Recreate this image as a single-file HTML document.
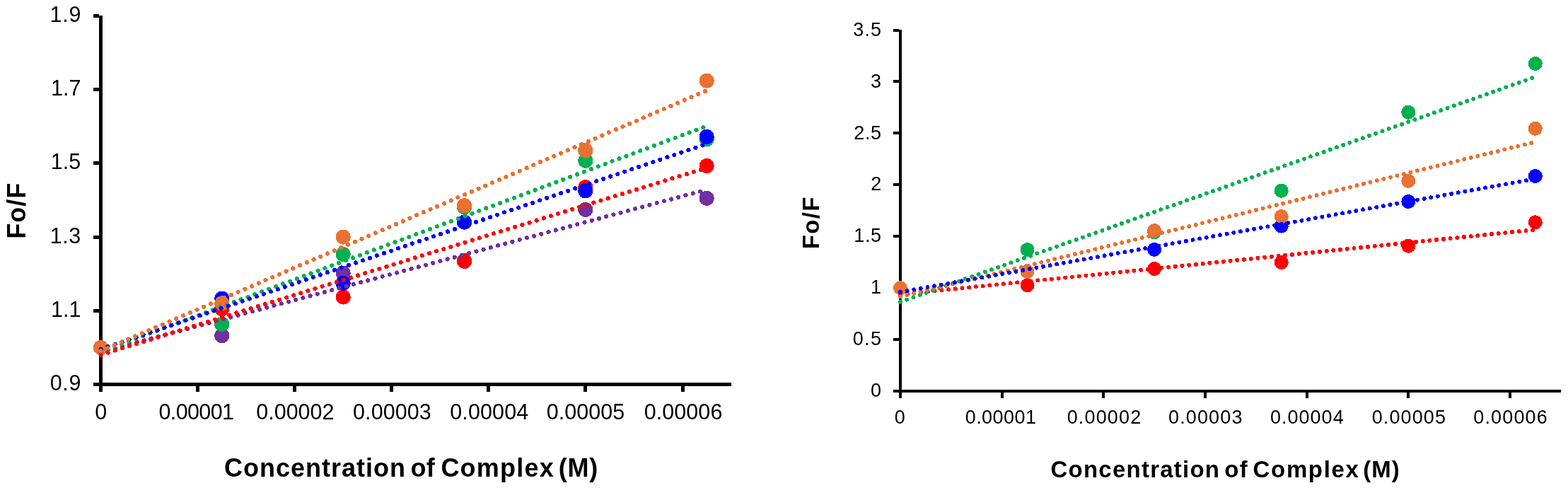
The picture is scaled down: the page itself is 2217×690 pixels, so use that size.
<!DOCTYPE html>
<html><head><meta charset="utf-8"><style>
html,body{margin:0;padding:0;background:#fff;}
svg{display:block;}
.t{font-family:"Liberation Sans",Arial,sans-serif;fill:#000;}
.b{font-family:"Liberation Sans",Arial,sans-serif;font-weight:bold;fill:#000;}
</style></head><body>
<svg width="2217" height="690" viewBox="0 0 2217 690">
<rect width="2217" height="690" fill="#fff"/>
<g fill="#000" shape-rendering="crispEdges">
<rect x="140" y="22" width="5" height="532"/>
<rect x="132" y="20.0" width="8" height="5"/>
<rect x="132" y="124.2" width="8" height="5"/>
<rect x="132" y="228.4" width="8" height="5"/>
<rect x="132" y="332.6" width="8" height="5"/>
<rect x="132" y="436.8" width="8" height="5"/>
<rect x="132" y="541.0" width="8" height="5"/>
<rect x="132" y="541" width="902" height="5"/>
<rect x="277.1" y="541" width="5" height="13"/>
<rect x="414.2" y="541" width="5" height="13"/>
<rect x="551.2" y="541" width="5" height="13"/>
<rect x="688.3" y="541" width="5" height="13"/>
<rect x="825.4" y="541" width="5" height="13"/>
<rect x="962.5" y="541" width="5" height="13"/>
<rect x="1271" y="42" width="4" height="521"/>
<rect x="1263" y="40.5" width="8" height="4"/>
<rect x="1263" y="113.4" width="8" height="4"/>
<rect x="1263" y="186.4" width="8" height="4"/>
<rect x="1263" y="259.3" width="8" height="4"/>
<rect x="1263" y="332.2" width="8" height="4"/>
<rect x="1263" y="405.2" width="8" height="4"/>
<rect x="1263" y="478.1" width="8" height="4"/>
<rect x="1263" y="551.0" width="8" height="4"/>
<rect x="1263" y="551" width="944" height="4"/>
<rect x="1414.7" y="551" width="4" height="12"/>
<rect x="1558.3" y="551" width="4" height="12"/>
<rect x="1702.0" y="551" width="4" height="12"/>
<rect x="1845.6" y="551" width="4" height="12"/>
<rect x="1989.2" y="551" width="4" height="12"/>
<rect x="2132.9" y="551" width="4" height="12"/>
</g>
<g shape-rendering="crispEdges">
<circle cx="142.50" cy="491.40" r="10.6" fill="#7030A0"/>
<circle cx="313.85" cy="474.73" r="10.6" fill="#7030A0"/>
<circle cx="485.20" cy="386.16" r="10.6" fill="#7030A0"/>
<circle cx="656.55" cy="368.44" r="10.6" fill="#7030A0"/>
<circle cx="827.90" cy="296.55" r="10.6" fill="#7030A0"/>
<circle cx="999.25" cy="280.39" r="10.6" fill="#7030A0"/>
<circle cx="142.50" cy="491.40" r="10.6" fill="#FF0000"/>
<circle cx="313.85" cy="436.70" r="10.6" fill="#FF0000"/>
<circle cx="485.20" cy="420.02" r="10.6" fill="#FF0000"/>
<circle cx="656.55" cy="369.49" r="10.6" fill="#FF0000"/>
<circle cx="827.90" cy="264.76" r="10.6" fill="#FF0000"/>
<circle cx="999.25" cy="234.55" r="10.6" fill="#FF0000"/>
<circle cx="142.50" cy="491.40" r="10.6" fill="#00B050"/>
<circle cx="313.85" cy="458.58" r="10.6" fill="#00B050"/>
<circle cx="485.20" cy="359.59" r="10.6" fill="#00B050"/>
<circle cx="656.55" cy="292.90" r="10.6" fill="#00B050"/>
<circle cx="827.90" cy="227.25" r="10.6" fill="#00B050"/>
<circle cx="999.25" cy="197.04" r="10.6" fill="#00B050"/>
<circle cx="142.50" cy="491.40" r="10.6" fill="#0000FF"/>
<circle cx="313.85" cy="422.11" r="10.6" fill="#0000FF"/>
<circle cx="485.20" cy="400.23" r="10.6" fill="#0000FF"/>
<circle cx="656.55" cy="314.26" r="10.6" fill="#0000FF"/>
<circle cx="827.90" cy="269.97" r="10.6" fill="#0000FF"/>
<circle cx="999.25" cy="193.39" r="10.6" fill="#0000FF"/>
<circle cx="142.50" cy="491.40" r="10.6" fill="#E97132"/>
<circle cx="313.85" cy="428.88" r="10.6" fill="#E97132"/>
<circle cx="485.20" cy="335.10" r="10.6" fill="#E97132"/>
<circle cx="656.55" cy="290.81" r="10.6" fill="#E97132"/>
<circle cx="827.90" cy="212.67" r="10.6" fill="#E97132"/>
<circle cx="999.25" cy="114.20" r="10.6" fill="#E97132"/>
<line x1="142.50" y1="497.75" x2="999.25" y2="268.14" stroke="#7030A0" stroke-width="6.2" stroke-linecap="round" stroke-dasharray="0.01 10.56"/>
<line x1="142.50" y1="497.26" x2="999.25" y2="178.33" stroke="#00B050" stroke-width="6.2" stroke-linecap="round" stroke-dasharray="0.01 10.56"/>
<line x1="142.50" y1="501.67" x2="999.25" y2="237.30" stroke="#FF0000" stroke-width="6.2" stroke-linecap="round" stroke-dasharray="0.01 10.56"/>
<line x1="142.50" y1="493.73" x2="999.25" y2="203.39" stroke="#0000FF" stroke-width="6.2" stroke-linecap="round" stroke-dasharray="0.01 10.56"/>
<line x1="142.50" y1="496.39" x2="999.25" y2="127.97" stroke="#E97132" stroke-width="6.2" stroke-linecap="round" stroke-dasharray="0.01 10.56"/>
<circle cx="1273.00" cy="407.14" r="10.0" fill="#FF0000"/>
<circle cx="1452.56" cy="403.35" r="10.0" fill="#FF0000"/>
<circle cx="1632.12" cy="380.01" r="10.0" fill="#FF0000"/>
<circle cx="1811.69" cy="370.97" r="10.0" fill="#FF0000"/>
<circle cx="1991.25" cy="347.77" r="10.0" fill="#FF0000"/>
<circle cx="2170.81" cy="314.23" r="10.0" fill="#FF0000"/>
<circle cx="1273.00" cy="407.14" r="10.0" fill="#00B050"/>
<circle cx="1452.56" cy="353.03" r="10.0" fill="#00B050"/>
<circle cx="1632.12" cy="328.38" r="10.0" fill="#00B050"/>
<circle cx="1811.69" cy="269.74" r="10.0" fill="#00B050"/>
<circle cx="1991.25" cy="158.74" r="10.0" fill="#00B050"/>
<circle cx="2170.81" cy="89.89" r="10.0" fill="#00B050"/>
<circle cx="1273.00" cy="407.14" r="10.0" fill="#0000FF"/>
<circle cx="1452.56" cy="383.80" r="10.0" fill="#0000FF"/>
<circle cx="1632.12" cy="352.88" r="10.0" fill="#0000FF"/>
<circle cx="1811.69" cy="319.62" r="10.0" fill="#0000FF"/>
<circle cx="1991.25" cy="285.06" r="10.0" fill="#0000FF"/>
<circle cx="2170.81" cy="249.03" r="10.0" fill="#0000FF"/>
<circle cx="1273.00" cy="407.14" r="10.0" fill="#E97132"/>
<circle cx="1452.56" cy="383.95" r="10.0" fill="#E97132"/>
<circle cx="1632.12" cy="326.04" r="10.0" fill="#E97132"/>
<circle cx="1811.69" cy="306.06" r="10.0" fill="#E97132"/>
<circle cx="1991.25" cy="255.88" r="10.0" fill="#E97132"/>
<circle cx="2170.81" cy="181.79" r="10.0" fill="#E97132"/>
<line x1="1273.00" y1="416.32" x2="2170.81" y2="324.84" stroke="#FF0000" stroke-width="6.0" stroke-linecap="round" stroke-dasharray="0.01 9.76"/>
<line x1="1273.00" y1="426.94" x2="2170.81" y2="108.70" stroke="#00B050" stroke-width="6.0" stroke-linecap="round" stroke-dasharray="0.01 9.76"/>
<line x1="1273.00" y1="419.50" x2="2170.81" y2="200.79" stroke="#E97132" stroke-width="6.0" stroke-linecap="round" stroke-dasharray="0.01 9.76"/>
<line x1="1273.00" y1="412.93" x2="2170.81" y2="252.92" stroke="#0000FF" stroke-width="6.0" stroke-linecap="round" stroke-dasharray="0.01 9.76"/>
</g>
<text class="t" x="70.55" y="30.90" style="font-size:30.5px;letter-spacing:0.730px">1.9</text>
<text class="t" x="72.09" y="135.10" style="font-size:30.5px;letter-spacing:0.000px">1.7</text>
<text class="t" x="71.86" y="239.30" style="font-size:30.5px;letter-spacing:0.000px">1.5</text>
<text class="t" x="70.65" y="343.50" style="font-size:30.5px;letter-spacing:0.643px">1.3</text>
<text class="t" x="72.04" y="447.70" style="font-size:30.5px;letter-spacing:0.000px">1.1</text>
<text class="t" x="70.65" y="551.90" style="font-size:30.5px;letter-spacing:0.683px">0.9</text>
<text class="t" x="134.15" y="593.00" style="font-size:30.5px;letter-spacing:0.000px">0</text>
<text class="t" x="224.55" y="593.00" style="font-size:30.5px;letter-spacing:-0.642px">0.00001</text>
<text class="t" x="362.35" y="593.00" style="font-size:30.5px;letter-spacing:-0.034px">0.00002</text>
<text class="t" x="499.05" y="593.00" style="font-size:30.5px;letter-spacing:0.077px">0.00003</text>
<text class="t" x="636.25" y="593.00" style="font-size:30.5px;letter-spacing:0.124px">0.00004</text>
<text class="t" x="772.65" y="593.00" style="font-size:30.5px;letter-spacing:0.064px">0.00005</text>
<text class="t" x="910.65" y="593.00" style="font-size:30.5px;letter-spacing:0.075px">0.00006</text>
<text class="b" x="317.08" y="674.00" style="font-size:36px;letter-spacing:0.998px">Concentration</text>
<text class="b" x="580.52" y="674.00" style="font-size:36px;letter-spacing:0.220px">of</text>
<text class="b" x="623.38" y="674.00" style="font-size:36px;letter-spacing:1.233px">Complex</text>
<text class="b" x="789.79" y="674.00" style="font-size:36px;letter-spacing:0.714px">(M)</text>
<text class="b" transform="translate(36.00,337.72) rotate(-90)" x="0" y="0" style="font-size:36px;letter-spacing:1.022px">Fo/F</text>
<text class="t" x="1206.33" y="50.90" style="font-size:27px;letter-spacing:1.075px">3.5</text>
<text class="t" x="1231.05" y="123.73" style="font-size:27px;letter-spacing:0.600px">3</text>
<text class="t" x="1207.28" y="196.56" style="font-size:27px;letter-spacing:0.600px">2.5</text>
<text class="t" x="1231.16" y="269.39" style="font-size:27px;letter-spacing:0.600px">2</text>
<text class="t" x="1207.28" y="342.22" style="font-size:27px;letter-spacing:0.600px">1.5</text>
<text class="t" x="1231.11" y="415.05" style="font-size:27px;letter-spacing:0.600px">1</text>
<text class="t" x="1205.69" y="487.88" style="font-size:27px;letter-spacing:1.396px">0.5</text>
<text class="t" x="1230.89" y="560.71" style="font-size:27px;letter-spacing:0.600px">0</text>
<text class="t" x="1264.64" y="599.00" style="font-size:27px;letter-spacing:0.000px">0</text>
<text class="t" x="1364.69" y="599.00" style="font-size:27px;letter-spacing:0.451px">0.00001</text>
<text class="t" x="1508.69" y="599.00" style="font-size:27px;letter-spacing:1.159px">0.00002</text>
<text class="t" x="1651.99" y="599.00" style="font-size:27px;letter-spacing:1.140px">0.00003</text>
<text class="t" x="1795.89" y="599.00" style="font-size:27px;letter-spacing:1.035px">0.00004</text>
<text class="t" x="1939.64" y="599.00" style="font-size:27px;letter-spacing:1.132px">0.00005</text>
<text class="t" x="2083.29" y="599.00" style="font-size:27px;letter-spacing:1.140px">0.00006</text>
<text class="b" x="1485.51" y="675.00" style="font-size:33px;letter-spacing:1.233px">Concentration</text>
<text class="b" x="1731.21" y="675.00" style="font-size:33px;letter-spacing:1.494px">of</text>
<text class="b" x="1771.61" y="675.00" style="font-size:33px;letter-spacing:1.641px">Complex</text>
<text class="b" x="1927.34" y="675.00" style="font-size:33px;letter-spacing:0.933px">(M)</text>
<text class="b" transform="translate(1157.80,352.22) rotate(-90)" x="0" y="0" style="font-size:33px;letter-spacing:1.292px">Fo/F</text>
</svg>
</body></html>
